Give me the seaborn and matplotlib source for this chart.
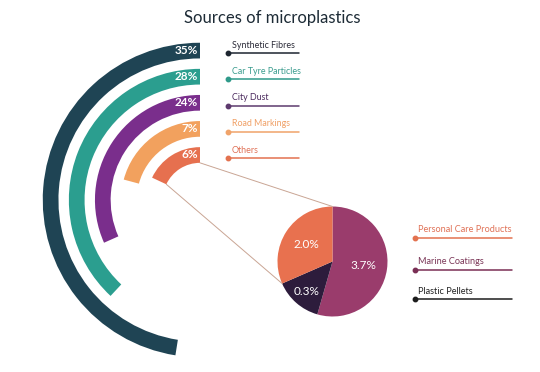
import numpy as np
import matplotlib
matplotlib.use("Agg")
import matplotlib.pyplot as plt
from matplotlib.patches import ConnectionPatch
import seaborn as sns

# ── Data ──────────────────────────────────────────────────────────────────────
sources      = ["Synthetic Fibres", "Car Tyre Particles", "City Dust",
                "Road Markings", "Others"]
source_pct   = [35, 28, 24, 7, 6]
arc_sweep    = [171, 137, 114, 75, 65]          # degrees drawn in the picture

others_parts = ["Personal Care Products", "Marine Coatings", "Plastic Pellets"]
others_pct   = [2.0, 3.7, 0.3]
pie_share    = [113.6, 196.0, 50.4]              # degrees drawn in the picture
pie_order    = [1, 2, 0]                         # clockwise from 12 o'clock

ring_colors  = ["#1f4454", "#2b9e8f", "#7a2e8c", "#f2a15e", "#e6704f"]
ring_text    = ["#2b2b38", "#3a9c8e", "#4b2a5e", "#f0a066", "#e07257"]
ring_line    = ["#1d2530", "#2f9a8a", "#5d3a6e", "#f0a36a", "#e3724f"]
pie_colors   = ["#e8714f", "#9a3c6c", "#2d1c3c"]
pie_text     = ["#e07257", "#7a3556", "#222222"]
pie_line     = ["#e3724f", "#7a2f55", "#1c1c1c"]

sns.set_theme(style="white")
plt.rcParams["font.family"] = ["Lato", "DejaVu Sans"]

W, H = 540, 372
fig = plt.figure(figsize=(W / 100, H / 100), dpi=100)

# ── Radial bars ───────────────────────────────────────────────────────────────
cx, cy, R = 200, 200, 160
axp = fig.add_axes([(cx - R) / W, (H - cy - R) / H, 2 * R / W, 2 * R / H],
                   projection="polar")
axp.set_theta_zero_location("N")
axp.set_theta_direction(1)
axp.set_ylim(0, R)
axp.set_axis_off()

n = len(sources)
radii = [45 + 26.1 * (n - 1 - i) for i in range(n)]
band = 15.7
axp.barh(radii, np.radians(arc_sweep), height=band, left=0,
         color=ring_colors, linewidth=0)
for r, p in zip(radii, source_pct):
    axp.annotate(f"{p}%", xy=(0, r), xytext=(-1.5, 0), textcoords="offset points",
                 ha="right", va="center", color="white", fontsize=8.5,
                 fontweight="bold")

# ── Pie of "Others" ───────────────────────────────────────────────────────────
pcx, pcy, pr = 332.5, 261.5, 55
axq = fig.add_axes([(pcx - pr) / W, (H - pcy - pr) / H, 2 * pr / W, 2 * pr / H])
wedges, _ = axq.pie([pie_share[k] for k in pie_order],
                    colors=[pie_colors[k] for k in pie_order], startangle=90,
                    counterclock=False, radius=1,
                    wedgeprops=dict(linewidth=0))
axq.set_xlim(-1, 1)
axq.set_ylim(-1, 1)
axq.set_aspect("equal")
axq.axis("off")
label_dist = {0: 0.56, 1: 0.56, 2: 0.72}
for w, k in zip(wedges, pie_order):
    mid = np.radians((w.theta1 + w.theta2) / 2)
    d = label_dist[k]
    axq.text(d * np.cos(mid), d * np.sin(mid), f"{others_pct[k]:.1f}%",
             ha="center", va="center", color="white", fontsize=8.5)

# connectors from the "Others" arc to the pie
r_in = radii[-1] - band / 2
edge = np.radians(wedges[pie_order.index(0)].theta2)
for a, b in [((0, r_in), (0, 1)),
             ((np.radians(arc_sweep[-1]), r_in), (np.cos(edge), np.sin(edge)))]:
    con = ConnectionPatch(xyA=a, coordsA=axp.transData, xyB=b,
                          coordsB=axq.transData, color="#c9a594", lw=0.7)
    fig.add_artist(con)

# ── Legends (pixel coordinates) ───────────────────────────────────────────────
axo = fig.add_axes([0, 0, 1, 1], zorder=-1)
axo.set_xlim(0, W)
axo.set_ylim(H, 0)
axo.axis("off")

for i, name in enumerate(sources):
    y = 53 + 26.3 * i
    axo.plot([228, 299], [y, y], color=ring_line[i], lw=1.1)
    axo.plot(228, y, "o", color=ring_line[i], ms=3.2)
    axo.text(231.5, y - 3.5, name, color=ring_text[i], fontsize=6.4, va="bottom")

for i, y in enumerate([237.5, 270, 299.3]):
    axo.plot([415, 512], [y, y], color=pie_line[i], lw=1.1)
    axo.plot(415, y, "o", color=pie_line[i], ms=3.2)
    axo.text(418, y - 3.5, others_parts[i], color=pie_text[i], fontsize=6.6,
             va="bottom")

fig.text(272 / W, 1 - 18 / H, "Sources of microplastics", ha="center",
         va="center", fontsize=12, color="#1d2b36")

fig.savefig("out.png", dpi=100)
